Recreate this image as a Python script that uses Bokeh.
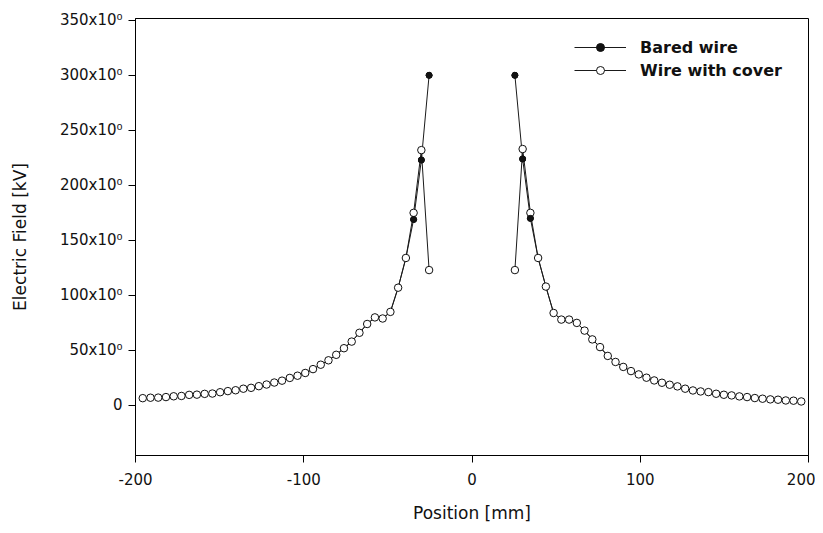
import math
from bokeh.plotting import figure
from bokeh.models import Range1d, FixedTicker, Legend, LegendItem, ColumnDataSource
from bokeh.embed import file_html
from bokeh.resources import INLINE

# ---- data ----
x_left = [-195.7, -191.1, -186.5, -181.9, -177.3, -172.7, -168.1, -163.5, -158.9, -154.3,
          -149.7, -145.1, -140.5, -135.9, -131.3, -126.7, -122.1, -117.5, -112.9, -108.3,
          -103.7, -99.1, -94.5, -89.9, -85.3, -80.7, -76.1, -71.5, -66.9, -62.3,
          -57.7, -53.1, -48.5, -43.9, -39.3, -34.7, -30.1, -25.5]
bared_left = [6.6, 7.0, 7.1, 7.6, 8.3, 8.6, 9.6, 9.8, 10.5, 10.8,
              12.0, 13.0, 13.8, 15.2, 16.0, 17.5, 19.0, 20.8, 22.5, 25.0,
              27.0, 29.5, 33.0, 37.0, 41.0, 46.0, 52.0, 58.0, 66.0, 74.0,
              80.0, 79.0, 85.0, 107.0, 134.0, 169.0, 223.0, 300.0]
cover_left = [6.6, 7.0, 7.1, 7.6, 8.3, 8.6, 9.6, 9.8, 10.5, 10.8,
              12.0, 13.0, 13.8, 15.2, 16.0, 17.5, 19.0, 20.8, 22.5, 25.0,
              27.0, 29.5, 33.0, 37.0, 41.0, 46.0, 52.0, 58.0, 66.0, 74.0,
              80.0, 79.0, 85.0, 107.0, 134.0, 175.0, 232.0, 123.0]

x_right = [25.5, 30.1, 34.7, 39.3, 43.9, 48.5, 53.1, 57.7, 62.3, 66.9,
           71.5, 76.1, 80.7, 85.3, 89.9, 94.5, 99.1, 103.7, 108.3, 112.9,
           117.5, 122.1, 126.7, 131.3, 135.9, 140.5, 145.1, 149.7, 154.3, 158.9,
           163.5, 168.1, 172.7, 177.3, 181.9, 186.5, 191.1, 195.7]
bared_right = [300.0, 224.0, 170.0, 134.0, 108.0, 84.0, 78.0, 78.0, 75.0, 68.0,
               60.0, 53.0, 45.0, 39.5, 35.0, 31.2, 28.2, 25.2, 22.7, 20.6,
               18.8, 17.3, 15.2, 13.6, 12.7, 12.1, 10.6, 9.7, 9.1, 8.2,
               7.6, 6.7, 6.1, 5.5, 5.2, 4.5, 4.3, 3.6]
cover_right = [123.0, 233.0, 175.0, 134.0, 108.0, 84.0, 78.0, 78.0, 75.0, 68.0,
               60.0, 53.0, 45.0, 39.5, 35.0, 31.2, 28.2, 25.2, 22.7, 20.6,
               18.8, 17.3, 15.2, 13.6, 12.7, 12.1, 10.6, 9.7, 9.1, 8.2,
               7.6, 6.7, 6.1, 5.5, 5.2, 4.5, 4.3, 3.6]

x_ticks = [-200, -100, 0, 100, 200]
x_tick_labels = ["-200", "-100", "0", "100", "200"]
y_ticks = [0, 50, 100, 150, 200, 250, 300, 350]
y_tick_labels = ["0", "50x10\u2070", "100x10\u2070", "150x10\u2070", "200x10\u2070",
                 "250x10\u2070", "300x10\u2070", "350x10\u2070"]

series_names = ["Bared wire", "Wire with cover"]

# ---- figure ----
p = figure(width=815, height=525, output_backend="svg", toolbar_location=None,
           x_range=Range1d(-200, 200), y_range=Range1d(-45.5, 351.6),
           min_border_left=135, min_border_right=7, min_border_top=18, min_border_bottom=70)
p.background_fill_color = "white"
p.border_fill_color = "white"
p.outline_line_color = "black"
p.outline_line_width = 1
p.grid.visible = False

nan = float("nan")
bx = x_left + [nan] + x_right
by = bared_left + [nan] + bared_right
cy = cover_left + [nan] + cover_right

src_b = ColumnDataSource(dict(x=bx, y=by))
src_c = ColumnDataSource(dict(x=bx, y=cy))

lb = p.line("x", "y", source=src_b, line_color="#1a1a1a", line_width=1)
lc = p.line("x", "y", source=src_c, line_color="#1a1a1a", line_width=1)
sb = p.scatter("x", "y", source=src_b, marker="circle", size=6,
               fill_color="#111111", line_color="#111111", line_width=1)
sc = p.scatter("x", "y", source=src_c, marker="circle", size=7.5,
               fill_color="white", line_color="#111111", line_width=1)
# keep bared markers visible where the series differ
peak_b = ColumnDataSource(dict(x=x_left[-3:] + x_right[:3], y=bared_left[-3:] + bared_right[:3]))
p.scatter("x", "y", source=peak_b, marker="circle", size=6,
          fill_color="#111111", line_color="#111111", line_width=1)

# axes
font = "DejaVu Sans"
for ax in (p.xaxis[0], p.yaxis[0]):
    ax.axis_line_color = "black"
    ax.axis_line_width = 1
    ax.major_tick_line_color = "black"
    ax.major_tick_in = 0
    ax.major_tick_out = 7
    ax.minor_tick_line_color = None
    ax.major_label_text_font = font
    ax.major_label_text_font_size = "15px"
    ax.major_label_text_color = "#111111"
    ax.axis_label_text_font = font
    ax.axis_label_text_font_size = "17px"
    ax.axis_label_text_font_style = "normal"
    ax.axis_label_text_color = "#111111"

p.xaxis.ticker = FixedTicker(ticks=x_ticks)
p.yaxis.ticker = FixedTicker(ticks=y_ticks)
p.xaxis.major_label_overrides = {t: s for t, s in zip(x_ticks, x_tick_labels)}
p.yaxis.major_label_overrides = {t: s for t, s in zip(y_ticks, y_tick_labels)}
p.xaxis.axis_label = "Position [mm]"
p.yaxis.axis_label = "Electric Field [kV]"
p.xaxis.major_label_standoff = 10
p.yaxis.major_label_standoff = 6
p.xaxis.axis_label_standoff = 15
p.yaxis.axis_label_standoff = 27

legend = Legend(items=[LegendItem(label=series_names[0], renderers=[lb, sb]),
                       LegendItem(label=series_names[1], renderers=[lc, sc])],
                location=(439, 375), margin=0, padding=8, spacing=3,
                glyph_width=52, glyph_height=20, label_height=20, label_standoff=14,
                label_text_font=font, label_text_font_size="16px",
                label_text_font_style="bold", label_text_color="#111111",
                border_line_color=None, background_fill_alpha=0.0)
p.add_layout(legend, "center")

open("out.html", "w").write(file_html(p, INLINE))
